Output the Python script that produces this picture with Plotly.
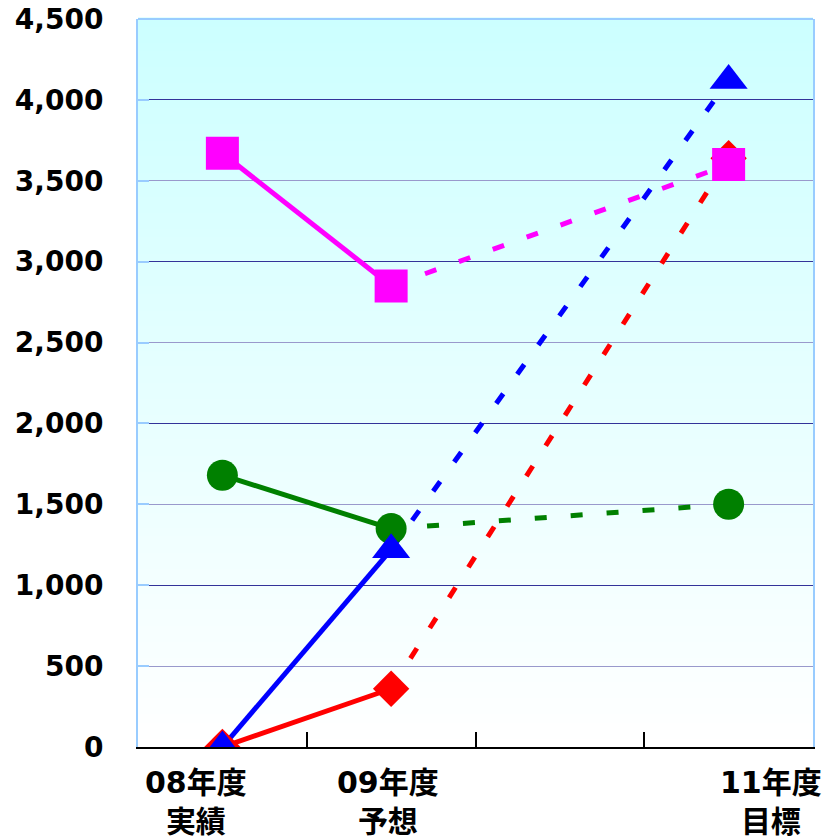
import plotly.graph_objects as go

categories = ["08年度実績", "09年度予想", "10年度", "11年度目標"]
x_points = ["08年度実績", "09年度予想", "11年度目標"]
label_line1 = ["08年度", "09年度", "11年度"]
label_line2 = ["実績", "予想", "目標"]

series_names = ["赤", "緑", "ピンク", "青"]
red_vals = [0, 360, 3640]
green_vals = [1680, 1350, 1500]
magenta_vals = [3670, 2850, 3600]
blue_vals = [0, 1220, 4120]

y_ticks = [0, 500, 1000, 1500, 2000, 2500, 3000, 3500, 4000, 4500]

styles = [
    (red_vals, "#FF0000", "diamond", 28),
    (green_vals, "#008000", "circle", 31),
    (magenta_vals, "#FF00FF", "square", 33),
    (blue_vals, "#0000FF", "triangle-up", 33),
]

fig = go.Figure()

# lines (solid actual->forecast, dashed forecast->target)
for vals, color, sym, size in styles:
    fig.add_trace(go.Scatter(x=x_points[:2], y=vals[:2], mode="lines",
                             line=dict(color=color, width=5), showlegend=False,
                             hoverinfo="skip"))
    fig.add_trace(go.Scatter(x=x_points[1:], y=vals[1:], mode="lines",
                             line=dict(color=color, width=5, dash="12px,24px"),
                             showlegend=False, hoverinfo="skip"))
# markers
for (vals, color, sym, size), name in zip(styles, series_names):
    fig.add_trace(go.Scatter(x=x_points, y=vals, mode="markers", name=name,
                             marker=dict(color=color, symbol=sym, size=size,
                                         line=dict(width=0)),
                             showlegend=False))

# gradient background bands
shapes = []
n = 90
for i in range(n):
    t0 = i / n
    t1 = (i + 1) / n
    tm = (i + 0.5) / n  # 0 bottom, 1 top
    r = round(255 - (255 - 204) * tm)
    shapes.append(dict(type="rect", xref="paper", yref="paper",
                       x0=0, x1=1, y0=t0, y1=t1 + 0.002,
                       fillcolor=f"rgb({r},255,255)", line=dict(width=0),
                       layer="below"))
# top border
shapes.append(dict(type="line", xref="paper", yref="paper", x0=0, x1=1, y0=1, y1=1,
                   line=dict(color="#99CCFF", width=2), layer="above"))
# category labels
annotations = []
label_x = [0.086, 0.370, 0.938]
lab_font = dict(family="DejaVu Sans, Noto Sans CJK JP", size=30, color="black")
for lx, l1, l2 in zip(label_x, label_line1, label_line2):
    annotations.append(dict(xref="paper", yref="paper", x=lx, y=0, yanchor="middle",
                            xanchor="center", yshift=-55, showarrow=False,
                            text=f"<b>{l1}</b><br><b>{l2}</b>", font=lab_font))

fig.update_layout(
    width=832, height=838,
    margin=dict(l=130, r=27, t=11, b=99, autoexpand=False),
    paper_bgcolor="white",
    plot_bgcolor="rgba(0,0,0,0)",
    shapes=shapes,
    annotations=annotations,
    xaxis=dict(type="category", categoryorder="array", categoryarray=categories,
               range=[-0.5, 3.5], tickson="boundaries", ticks="inside", ticklen=15,
               tickwidth=2, tickcolor="black", showticklabels=False,
               showline=True, linecolor="black", linewidth=2, showgrid=False,
               zeroline=False, fixedrange=True, automargin=False),
    yaxis=dict(range=[0, 4500], tickvals=y_ticks, tickformat=",",
               showgrid=True, gridcolor="#9999CC", gridwidth=1,
               ticks="inside", ticklen=11, tickwidth=2, tickcolor="#99CCFF",
               showline=True, linecolor="#99CCFF", linewidth=2, mirror=True,
               zeroline=False, ticklabelstandoff=27, automargin=False,
               ticklabeloverflow="allow",
               tickfont=dict(family="DejaVu Sans", size=28, color="black", weight="bold")),
    yaxis2=dict(range=[0, 4500], overlaying="y", dtick=1000, tick0=0,
                showgrid=True, gridcolor="#333399", gridwidth=1, automargin=False,
                showticklabels=False, ticks="", zeroline=False, showline=False),
)
fig.add_trace(go.Scatter(x=[None], y=[None], yaxis="y2", showlegend=False, hoverinfo="skip"))

fig.write_html("out.html")
